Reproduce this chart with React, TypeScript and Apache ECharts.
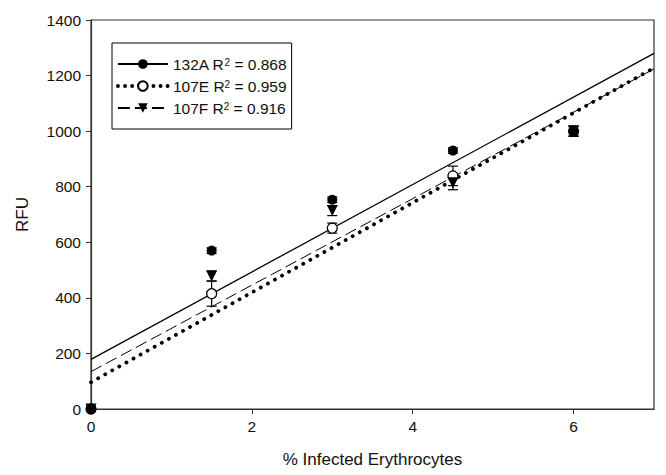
import React, { useEffect, useRef } from "react";
import * as echarts from "echarts";

const xValues = [0, 1.5, 3, 4.5, 6];
const seriesNames = ["132A", "107E", "107F"];
const r2Labels = ["0.868", "0.959", "0.916"];
const values132A = [0, 570, 753, 930, 1000];
const values107E = [0, 415, 651, 839, 1000];
const values107F = [0, 479, 714, 814, 1000];
const errors132A = [6, 10, 10, 10, 18];
const errors107E = [6, 45, 18, 35, 18];
const errors107F = [6, 18, 18, 25, 18];
const xTicks = [0, 2, 4, 6];
const yTicks = [0, 200, 400, 600, 800, 1000, 1200, 1400];

const FONT = "Liberation Sans, Arial, sans-serif";

function linReg(xs: number[], ys: number[]) {
  const n = xs.length;
  const mx = xs.reduce((a, b) => a + b, 0) / n;
  const my = ys.reduce((a, b) => a + b, 0) / n;
  let sxy = 0;
  let sxx = 0;
  for (let i = 0; i < n; i++) {
    sxy += (xs[i] - mx) * (ys[i] - my);
    sxx += (xs[i] - mx) * (xs[i] - mx);
  }
  const m = sxy / sxx;
  return { m, b: my - m * mx };
}

export default function App() {
  const ref = useRef<HTMLDivElement>(null);
  useEffect(() => {
    if (!ref.current) return;
    const chart = echarts.init(ref.current, undefined, { renderer: "svg" });
    const xMax = 7;
    const allValues = [values132A, values107E, values107F];
    const allErrors = [errors132A, errors107E, errors107F];
    const legendSymbols = ["circle", "emptyCircle", "path://M0,0L10,0L5,9Z"];
    const pointSymbols = ["circle", "circle", "path://M0,0L10,0L5,9Z"];
    const symbolSizes = [10, 10, 11];
    const lineStyles: any[] = [
      { color: "#000", width: 1.3, type: "solid" },
      { color: "#000", width: 3.8, type: [0.1, 8], cap: "round" },
      { color: "#000", width: 1, type: [12, 5] },
    ];
    const series: any[] = [];
    allValues.forEach((vals, i) => {
      const { m, b } = linReg(xValues, vals);
      series.push({
        name: seriesNames[i],
        type: "line",
        data: [
          [0, b],
          [xMax, b + m * xMax],
        ],
        symbol: legendSymbols[i],
        symbolSize: symbolSizes[i],
        showSymbol: false,
        lineStyle: lineStyles[i],
        itemStyle: { color: "#000", borderColor: "#000" },
        z: 2,
      });
    });
    allValues.forEach((vals, i) => {
      series.push({
        name: "err" + seriesNames[i],
        type: "custom",
        data: xValues.map((x, j) => [x, vals[j], allErrors[i][j]]),
        encode: { x: 0, y: 1 },
        clip: false,
        z: 3,
        renderItem: (params: any, api: any) => {
          const x = api.value(0);
          const y = api.value(1);
          const e = api.value(2);
          const top = api.coord([x, y + e]);
          const bot = api.coord([x, y - e]);
          const hw = 5;
          const st = { stroke: "#000", lineWidth: 1.2 };
          return {
            type: "group",
            children: [
              { type: "line", shape: { x1: top[0], y1: top[1], x2: bot[0], y2: bot[1] }, style: st },
              { type: "line", shape: { x1: top[0] - hw, y1: top[1], x2: top[0] + hw, y2: top[1] }, style: st },
              { type: "line", shape: { x1: bot[0] - hw, y1: bot[1], x2: bot[0] + hw, y2: bot[1] }, style: st },
            ],
          };
        },
      });
    });
    const scatterOrder = [1, 2, 0];
    scatterOrder.forEach((i) => {
      series.push({
        name: "pts" + seriesNames[i],
        type: "scatter",
        data: xValues.map((x, j) => [x, allValues[i][j]]),
        symbol: pointSymbols[i],
        symbolSize: symbolSizes[i],
        clip: false,
        z: 4,
        itemStyle:
          i === 1
            ? { color: "#fff", borderColor: "#000", borderWidth: 1.3, opacity: 1 }
            : { color: "#000", opacity: 1 },
      });
    });

    chart.setOption({
      animation: false,
      backgroundColor: "#fff",
      textStyle: { fontFamily: FONT },
      grid: {
        left: 91,
        right: 12,
        top: 20,
        bottom: 66,
        show: true,
        borderColor: "#333",
        borderWidth: 1.2,
        backgroundColor: "transparent",
      },
      legend: {
        data: [
          { name: seriesNames[0] },
          { name: seriesNames[1], lineStyle: { width: 3.8, type: [0.1, 7], cap: "round", color: "#000" } },
          { name: seriesNames[2] },
        ],
        orient: "vertical",
        left: 112,
        top: 43,
        padding: [13, 5, 13, 4],
        itemGap: 6,
        itemWidth: 50,
        itemHeight: 12,
        borderColor: "#000",
        borderWidth: 1,
        selectedMode: false,
        formatter: (name: string) => {
          const idx = seriesNames.indexOf(name);
          return `{t|${name} R}{s|2}{t| = ${r2Labels[idx]}}`;
        },
        textStyle: {
          fontFamily: FONT,
          rich: {
            t: { fontSize: 15.5, color: "#111", fontFamily: FONT, lineHeight: 14 },
            s: { fontSize: 10, color: "#111", fontFamily: FONT, verticalAlign: "top", lineHeight: 10 },
          },
        },
      },
      xAxis: {
        type: "value",
        min: 0,
        max: xMax,
        interval: 2,
        name: "% Infected Erythrocytes",
        nameLocation: "middle",
        nameGap: 42,
        nameTextStyle: { fontSize: 17, color: "#111", fontFamily: FONT },
        splitLine: { show: false },
        axisLine: { show: true, lineStyle: { color: "#333", width: 1.2 } },
        axisTick: { show: true, length: 5, lineStyle: { color: "#333" } },
        axisLabel: {
          fontSize: 15.5,
          color: "#111",
          fontFamily: FONT,
          margin: 9,
          showMaxLabel: false,
          formatter: (v: number) => (xTicks.includes(v) ? String(v) : ""),
        },
      },
      yAxis: {
        type: "value",
        min: 0,
        max: 1400,
        interval: 200,
        name: "RFU",
        nameLocation: "middle",
        nameGap: 60,
        nameTextStyle: { fontSize: 17, color: "#111", fontFamily: FONT },
        splitLine: { show: false },
        axisLine: { show: true, lineStyle: { color: "#333", width: 1.2 } },
        axisTick: { show: true, length: 5, lineStyle: { color: "#333" } },
        axisLabel: {
          fontSize: 15.5,
          color: "#111",
          fontFamily: FONT,
          margin: 10,
          formatter: (v: number) => (yTicks.includes(v) ? String(v) : ""),
        },
      },
      series,
    });
    return () => chart.dispose();
  }, []);
  return <div ref={ref} style={{ width: 666, height: 475, position: "absolute", left: 0, top: 0 }} />;
}
